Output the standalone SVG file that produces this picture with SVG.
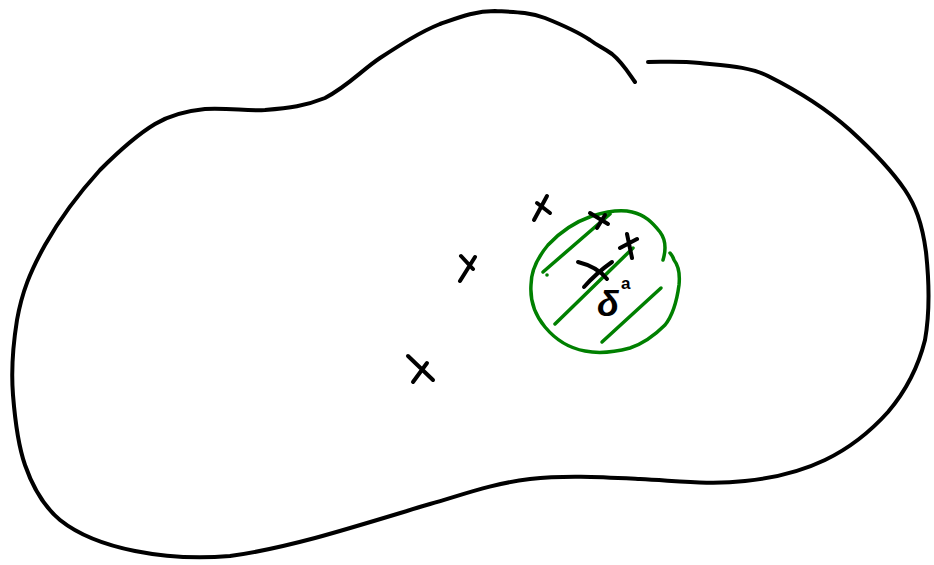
<svg xmlns="http://www.w3.org/2000/svg" width="934" height="565" viewBox="0 0 934 565">
<style>
.ink{fill:none;stroke:#000;stroke-width:4;stroke-linecap:round;stroke-linejoin:round}
.g{fill:none;stroke:#008000;stroke-width:3.5;stroke-linecap:round;stroke-linejoin:round}
.t{font-family:"Liberation Sans",Arial,sans-serif;fill:#000}
</style>
<rect width="934" height="565" fill="#fff"/>
<g id="outline">
<path class="ink" d="M635,82 C628,72 622,62 612,54 C602,47 598,46 590,40 C575,30 560,24 545,18 C530,12 515,12 495,11 C475,11 460,17 440,24 C420,32 400,45 380,58 C362,70 348,86 325,98 C305,106 290,108 265,110 C245,111 232,108 205,109 C185,111 170,115 155,124 C140,133 120,150 100,170 C80,192 62,215 45,245 C30,272 22,292 17,320 C13,345 11,370 13,395 C15,420 18,445 25,465 C32,485 42,505 60,520 C80,536 105,545 135,551 C165,557 195,559 230,556 C260,552 285,546 315,538 C355,527 390,516 430,504 C465,494 490,484 530,479 C565,475 600,477 640,479 C680,481 710,485 745,481 C775,478 800,472 825,460 C850,448 870,432 888,412 C905,392 918,368 925,340 C930,312 929,280 926,252 C922,222 915,205 905,190 C890,168 872,150 850,130 C830,112 800,92 768,76 C750,67 730,66 700,63 C680,61 665,62 648,62"/>
</g>
<g id="region">
<path class="g" d="M663,260 C666,250 666,240 660,232 C652,222 645,215 632,212 C620,209 605,212 592,216 C575,222 560,232 548,245 C538,257 531,270 531,285 C530,300 535,315 545,327 C555,339 568,348 585,351 C600,354 615,352 630,348 C645,343 655,335 665,325 C673,315 677,300 679,285 C680,275 678,265 674,260 C673,257 672,255 670,253"/>
<path class="g" d="M543,272 L610,214"/>
<circle cx="547" cy="275" r="1.8" fill="#008000"/>
<path class="g" d="M555,324 L633,248"/>
<path class="g" d="M602,342 L661,288"/>
</g>
<g id="points">
<path class="ink" d="M534,220 L547,196 M537,203 L550,213"/>
<path class="ink" d="M460,281 L475,257 M461,256 L473,269"/>
<path class="ink" d="M408,356 L433,380 M413,382 L427,363"/>
<path class="ink" d="M590,213 L608,224 M597,228 L605,215"/>
<path class="ink" d="M620,248 L637,239 M627,234 L632,258"/>
<path class="ink" d="M578,262 C590,265 600,270 607,279 M584,287 C592,278 602,269 612,262"/>
</g>
<g id="labels">
<text class="t" x="621" y="289" font-size="17" font-weight="bold">a</text>
<text class="t" x="597" y="316" font-size="36" font-weight="bold" font-style="italic">δ</text>
</g>
</svg>
